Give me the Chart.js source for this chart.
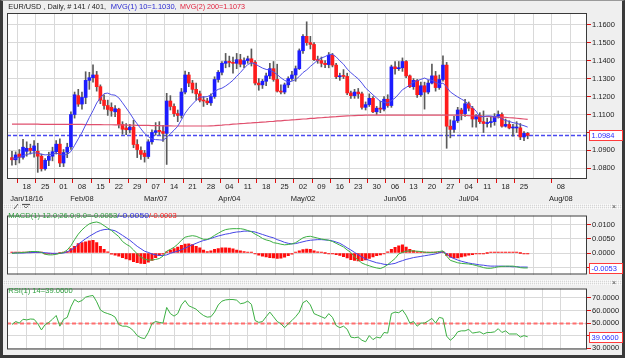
<!DOCTYPE html>
<html><head><meta charset="utf-8">
<script src="https://cdn.jsdelivr.net/npm/chart.js@4.4.1/dist/chart.umd.min.js"></script>
<style>
html,body{margin:0;padding:0;background:#ffffff;width:628px;height:360px;overflow:hidden;}
#frame{position:absolute;left:0;top:0;width:619px;height:354px;border:3px solid #3a3a3a;border-top:1px solid #9a9a9a;background:#efefef;}
canvas{position:absolute;left:0;}
.sep{position:absolute;left:3px;width:619px;height:5px;background-color:#d6d6d6;
background-image:repeating-linear-gradient(90deg,rgba(255,255,255,.75) 0 1px,transparent 1px 2px),repeating-linear-gradient(0deg,rgba(255,255,255,.6) 0 1px,transparent 1px 2px);}
.cls{position:absolute;left:612px;font:7px 'Liberation Sans',Arial,sans-serif;color:#444;line-height:6px;}
</style></head>
<body>
<div id="frame"></div>
<canvas id="c1" width="628" height="205" style="top:0px"></canvas>
<canvas id="c2" width="628" height="70" style="top:210px"></canvas>
<canvas id="c3" width="628" height="72" style="top:283px"></canvas>
<div class="sep" style="top:204px"></div>
<div class="sep" style="top:280px"></div>
<svg style="position:absolute;left:13px;top:203px" width="20" height="7"><path d="M1 6 L5 1" stroke="#555" stroke-width="1"/><path d="M9 1.5 H17" stroke="#555" stroke-width="1.2"/><path d="M11 3 L13 5 L15 3" stroke="#555" fill="none" stroke-width="0.8"/></svg>
<div class="cls" style="top:204px">×</div>
<div class="cls" style="top:280px">×</div>
<script>
// ---------------- DATA ----------------
const startDate = '2016-01-12';
const opens = [1.0860,1.0848,1.0880,1.0862,
1.0895,1.0912,1.0898,1.0895,1.0868, 1.0798,1.0845,1.0868,1.0893,1.0935,
1.0830,1.0890,1.0920,1.1100,1.1205, 1.1158,1.1195,1.1290,1.1305,1.1320,
1.1255,1.1180,1.1150,1.1140,1.1115, 1.1130,1.1045,1.1025,1.1015,1.1030,
1.0933,1.0900,1.0885,1.0866,1.0948, 1.1000,1.1012,1.1005,1.0995,1.1175,
1.1145,1.1105,1.1095,1.1225,1.1320, 1.1275,1.1240,1.1215,1.1180,1.1175,
1.1165,1.1200,1.1295,1.1335,1.1385, 1.1395,1.1390,1.1385,1.1405,1.1380,
1.1400,1.1410,1.1390,1.1275,1.1265, 1.1285,1.1315,1.1355,1.1295,1.1230,
1.1225,1.1265,1.1300,1.1320,1.1355, 1.1455,1.1535,1.1500,1.1490,1.1405,
1.1400,1.1385,1.1378,1.1430,1.1375, 1.1310,1.1315,1.1312,1.1220,1.1205,
1.1225,1.1215,1.1140,1.1155,1.1190, 1.1115,1.1135,1.1130,1.1185,1.1150,
1.1365,1.1355,1.1360,1.1395,1.1315, 1.1255,1.1290,1.1210,1.1260,1.1225,
1.1275,1.1315,1.1250,1.1295,1.1375, 1.1035,1.1017,1.1065,1.1125,1.1105,
1.1160,1.1135,1.1075,1.1095,1.1060, 1.1050,1.1055,1.1060,1.1090,1.1100,
1.1035,1.1045,1.1025,1.1025,1.1026, 1.0975,1.0995];
const highs = [1.0895,1.0892,1.0905,1.0962,
1.0948,1.0935,1.0955,1.0940,1.0880, 1.0855,1.0890,1.0918,1.0955,1.0965,
1.0905,1.0940,1.1115,1.1225,1.1240, 1.1225,1.1338,1.1335,1.1376,1.1340,
1.1265,1.1210,1.1180,1.1165,1.1150, 1.1135,1.1060,1.1050,1.1045,1.1068,
1.0960,1.0920,1.0900,1.0960,1.1015, 1.1055,1.1060,1.1040,1.1218,1.1205,
1.1160,1.1125,1.1245,1.1342,1.1335, 1.1290,1.1275,1.1230,1.1200,1.1190,
1.1215,1.1310,1.1345,1.1395,1.1440, 1.1425,1.1420,1.1440,1.1435,1.1415,
1.1425,1.1465,1.1400,1.1300,1.1295, 1.1330,1.1385,1.1395,1.1380,1.1265,
1.1275,1.1310,1.1340,1.1370,1.1465, 1.1545,1.1616,1.1535,1.1500,1.1425,
1.1420,1.1400,1.1445,1.1440,1.1385, 1.1330,1.1350,1.1330,1.1230,1.1240,
1.1245,1.1225,1.1170,1.1215,1.1200, 1.1145,1.1175,1.1200,1.1210,1.1375,
1.1395,1.1395,1.1415,1.1400,1.1320, 1.1300,1.1295,1.1280,1.1280,1.1290,
1.1380,1.1340,1.1320,1.1427,1.1390, 1.1070,1.1090,1.1140,1.1135,1.1185,
1.1170,1.1145,1.1100,1.1110,1.1120, 1.1080,1.1085,1.1105,1.1120,1.1110,
1.1075,1.1065,1.1045,1.1060,1.1050, 1.1005,1.1000];
const lows = [1.0818,1.0820,1.0830,1.0852,
1.0868,1.0880,1.0862,1.0778,1.0785, 1.0790,1.0815,1.0842,1.0880,1.0810,
1.0810,1.0860,1.0905,1.1080,1.1145, 1.1130,1.1160,1.1240,1.1280,1.1230,
1.1160,1.1130,1.1095,1.1090,1.1088, 1.1025,1.0990,1.0988,1.0998,1.0915,
1.0860,1.0850,1.0835,1.0855,1.0935, 1.0985,1.0988,1.0950,1.0822,1.1125,
1.1090,1.1060,1.1080,1.1215,1.1255, 1.1220,1.1180,1.1170,1.1145,1.1155,
1.1150,1.1190,1.1280,1.1320,1.1360, 1.1365,1.1330,1.1355,1.1365,1.1360,
1.1385,1.1370,1.1265,1.1235,1.1245, 1.1260,1.1300,1.1285,1.1225,1.1215,
1.1215,1.1250,1.1290,1.1285,1.1350, 1.1440,1.1485,1.1465,1.1400,1.1385,
1.1365,1.1360,1.1360,1.1365,1.1300, 1.1290,1.1300,1.1210,1.1190,1.1190,
1.1190,1.1130,1.1125,1.1145,1.1110, 1.1100,1.1110,1.1120,1.1140,1.1140,
1.1325,1.1345,1.1340,1.1305,1.1250, 1.1240,1.1195,1.1200,1.1130,1.1215,
1.1270,1.1230,1.1240,1.1285,1.0912, 1.0970,1.1000,1.1055,1.1070,1.1090,
1.1120,1.1030,1.1030,1.1050,1.1000, 1.1030,1.1030,1.1040,1.1080,1.1030,
1.1030,1.1020,1.0980,1.1000,1.0960, 1.0955,1.0965];
const closes = [1.0848,1.0875,1.0862,1.0918,
1.0912,1.0900,1.0925,1.0868,1.0798, 1.0845,1.0868,1.0893,1.0935,1.0830,
1.0888,1.0918,1.1100,1.1210,1.1158, 1.1195,1.1290,1.1305,1.1320,1.1255,
1.1180,1.1150,1.1128,1.1120,1.1132, 1.1045,1.1018,1.1015,1.1030,1.0933,
1.0905,1.0878,1.0866,1.0948,1.1000, 1.1010,1.1005,1.0995,1.1175,1.1145,
1.1105,1.1095,1.1225,1.1320,1.1275, 1.1240,1.1215,1.1180,1.1175,1.1165,
1.1200,1.1295,1.1335,1.1385,1.1395, 1.1390,1.1385,1.1405,1.1380,1.1400,
1.1410,1.1390,1.1275,1.1265,1.1285, 1.1315,1.1355,1.1295,1.1230,1.1225,
1.1265,1.1300,1.1320,1.1355,1.1455, 1.1535,1.1500,1.1490,1.1405,1.1400,
1.1385,1.1378,1.1430,1.1375,1.1310, 1.1315,1.1312,1.1220,1.1205,1.1225,
1.1215,1.1140,1.1155,1.1190,1.1115, 1.1135,1.1130,1.1185,1.1150,1.1365,
1.1355,1.1360,1.1395,1.1315,1.1255, 1.1290,1.1210,1.1260,1.1225,1.1275,
1.1315,1.1250,1.1295,1.1375,1.1035, 1.1017,1.1065,1.1125,1.1105,1.1160,
1.1135,1.1075,1.1095,1.1060,1.1050, 1.1055,1.1060,1.1090,1.1100,1.1035,
1.1045,1.1025,1.1025,1.1026,1.0975, 1.0995,1.0984];
// first nine 10-day averages (need bars before the window)
const ma10Head = [1.0852,1.0857,1.0863,1.0870,1.0877,1.0883,1.0887,1.0885,1.0879];
const ma200 = [1.1046,1.1046,1.1046,1.1046,
1.1046,1.1046,1.1046,1.1046,1.1045, 1.1045,1.1045,1.1045,1.1045,1.1045,
1.1045,1.1045,1.1045,1.1045,1.1045, 1.1045,1.1044,1.1044,1.1044,1.1044,
1.1044,1.1043,1.1043,1.1043,1.1042, 1.1042,1.1042,1.1041,1.1041,1.1041,
1.1040,1.1040,1.1039,1.1039,1.1038, 1.1038,1.1038,1.1037,1.1037,1.1037,
1.1036,1.1036,1.1036,1.1036,1.1036, 1.1036,1.1036,1.1036,1.1036,1.1036,
1.1037,1.1038,1.1040,1.1041,1.1043, 1.1044,1.1046,1.1047,1.1049,1.1050,
1.1052,1.1053,1.1055,1.1056,1.1058, 1.1059,1.1061,1.1062,1.1064,1.1065,
1.1067,1.1068,1.1070,1.1071,1.1073, 1.1075,1.1076,1.1078,1.1079,1.1081,
1.1082,1.1084,1.1085,1.1087,1.1088, 1.1090,1.1091,1.1092,1.1093,1.1094,
1.1095,1.1095,1.1096,1.1096,1.1096, 1.1097,1.1097,1.1097,1.1097,1.1097,
1.1097,1.1097,1.1097,1.1097,1.1097, 1.1097,1.1097,1.1097,1.1097,1.1097,
1.1097,1.1097,1.1097,1.1097,1.1097, 1.1097,1.1097,1.1097,1.1096,1.1095,
1.1094,1.1093,1.1092,1.1091,1.1090, 1.1089,1.1088,1.1087,1.1086,1.1085,
1.1084,1.1082,1.1081,1.1079,1.1077, 1.1075,1.1073];
const macd = [-0.00011,0.00000,0.00011,0.00022,
0.00032,0.00054,0.00054,0.00054,0.00022, -0.00043,-0.00065,-0.00065,-0.00043,-0.00011,
0.00022,0.00108,0.00260,0.00476,0.00671, 0.00822,0.00941,0.01039,0.01082,0.01104,
0.01060,0.00974,0.00887,0.00801,0.00692, 0.00584,0.00411,0.00314,0.00238,0.00108,
-0.00032,-0.00141,-0.00216,-0.00249,-0.00249, -0.00227,-0.00195,-0.00108,0.00065,0.00130,
0.00206,0.00314,0.00454,0.00563,0.00595, 0.00617,0.00595,0.00541,0.00487,0.00487,
0.00541,0.00628,0.00703,0.00779,0.00833, 0.00855,0.00866,0.00866,0.00866,0.00844,
0.00801,0.00757,0.00671,0.00606,0.00519, 0.00465,0.00433,0.00368,0.00346,0.00314,
0.00292,0.00303,0.00325,0.00368,0.00454, 0.00541,0.00584,0.00595,0.00563,0.00530,
0.00498,0.00476,0.00454,0.00411,0.00346, 0.00281,0.00216,0.00108,0.00022,-0.00141,
-0.00249,-0.00357,-0.00411,-0.00454,-0.00498, -0.00530,-0.00552,-0.00498,-0.00411,-0.00303,
-0.00195,-0.00032,0.00022,0.00065,0.00076, 0.00076,0.00065,0.00054,0.00032,0.00022,
0.00022,0.00032,0.00054,0.00076,-0.00108, -0.00260,-0.00303,-0.00346,-0.00368,-0.00379,
-0.00390,-0.00411,-0.00444,-0.00476,-0.00519, -0.00541,-0.00541,-0.00519,-0.00487,-0.00476,
-0.00465,-0.00465,-0.00465,-0.00487,-0.00519, -0.00530,-0.00530];
const signal = [0,0,0,0,
0.00011,0.00011,0.00022,0.00022,0.00022, 0.00011,0,-0.00011,-0.00011,-0.00011,
0,0.00043,0.00108,0.00184,0.00314, 0.00411,0.00509,0.00595,0.00671,0.00747,
0.00801,0.00833,0.00844,0.00822,0.00790, 0.00714,0.00628,0.00541,0.00454,0.00346,
0.00238,0.00152,0.00065,0.00022,-0.00032, -0.00065,-0.00087,-0.00087,-0.00065,-0.00011,
0.00032,0.00065,0.00119,0.00173,0.00238, 0.00292,0.00346,0.00400,0.00444,0.00476,
0.00519,0.00563,0.00606,0.00638,0.00671, 0.00692,0.00725,0.00747,0.00757,0.00779,
0.00779,0.00768,0.00747,0.00703,0.00660, 0.00617,0.00574,0.00541,0.00476,0.00433,
0.00379,0.00346,0.00325,0.00336,0.00368, 0.00400,0.00433,0.00454,0.00465,0.00476,
0.00476,0.00465,0.00454,0.00433,0.00390, 0.00346,0.00271,0.00184,0.00108,0.00022,
-0.00065,-0.00141,-0.00206,-0.00260,-0.00303, -0.00346,-0.00368,-0.00400,-0.00411,-0.00390,
-0.00368,-0.00314,-0.00271,-0.00227,-0.00195, -0.00162,-0.00141,-0.00119,-0.00097,-0.00076,
-0.00054,-0.00032,0.00011,0.00043,-0.00022, -0.00141,-0.00195,-0.00249,-0.00292,-0.00325,
-0.00357,-0.00379,-0.00400,-0.00422,-0.00433, -0.00454,-0.00465,-0.00465,-0.00465,-0.00465,
-0.00476,-0.00476,-0.00487,-0.00487,-0.00498, -0.00498,-0.00500];
const hist = [0.00022,0.00011,0.00022,0.00022,
0.00032,0.00043,0.00043,0.00032,0.00011, -0.00022,-0.00032,-0.00032,-0.00022,0,
0.00011,0.00054,0.00162,0.00238,0.00335, 0.00368,0.00400,0.00433,0.00454,0.00368,
0.00238,0.00130,0.00043,-0.00043,-0.00076, -0.00108,-0.00162,-0.00206,-0.00249,-0.00303,
-0.00346,-0.00368,-0.00379,-0.00325,-0.00260, -0.00162,-0.00087,-0.00043,0.00043,0.00108,
0.00162,0.00216,0.00271,0.00314,0.00325, 0.00303,0.00238,0.00184,0.00108,0.00054,
0.00076,0.00130,0.00162,0.00184,0.00184, 0.00173,0.00151,0.00108,0.00076,0.00054,
0.00032,0.00011,-0.00032,-0.00076,-0.00108, -0.00141,-0.00162,-0.00173,-0.00195,-0.00184,
-0.00151,-0.00097,-0.00043,0.00022,0.00076, 0.00119,0.00141,0.00130,0.00076,0.00043,
0.00022,0,-0.00011,-0.00032,-0.00054, -0.00087,-0.00130,-0.00173,-0.00238,-0.00260,
-0.00281,-0.00271,-0.00249,-0.00195,-0.00141, -0.00097,-0.00065,-0.00011,0.00043,0.00130,
0.00206,0.00260,0.00292,0.00216,0.00130, 0.00087,0.00054,0.00043,0.00032,0.00022,
0.00022,0.00022,0.00022,0.00054,-0.00087, -0.00151,-0.00173,-0.00173,-0.00141,-0.00108,
-0.00076,-0.00054,-0.00032,-0.00022,-0.00011, 0,0.00011,0.00022,0.00022,0.00022,
0.00022,0.00022,0.00022,0.00011,0, -0.00011,-0.00032];
const rsi = [48.8,51.2,50.0,53.0,
52.5,53.2,53.0,49.5,44.5, 48.8,50.5,53.0,56.0,47.5,
53.0,54.5,62.9,68.7,66.7, 67.9,70.6,71.4,71.9,66.9,
60.4,58.5,57.5,56.5,54.7, 48.8,47.5,47.5,46.3,43.8,
40.0,38.3,37.6,42.5,49.5, 51.2,50.5,50.0,62.4,57.5,
55.5,57.5,64.4,67.9,63.7, 62.4,61.0,58.2,56.0,54.7,
55.0,58.7,64.4,67.4,68.4, 68.7,68.7,68.2,65.4,65.9,
67.4,64.9,52.0,50.5,51.2, 55.0,58.7,55.0,51.2,49.5,
46.3,49.3,52.0,55.0,58.7, 66.2,67.9,64.4,57.5,56.2,
55.0,53.7,57.5,54.5,48.0, 46.3,47.5,45.0,38.8,38.3,
38.8,36.3,35.1,40.0,36.8, 38.8,38.1,42.5,42.0,57.5,
58.7,58.2,60.4,56.2,50.0, 51.2,47.5,50.0,50.0,51.7,
53.7,50.0,54.5,53.7,39.6, 36.3,38.8,43.0,43.8,43.8,
45.0,42.0,42.5,43.0,41.3, 42.5,42.5,43.0,45.5,42.5,
43.8,41.3,41.3,41.3,38.8, 40.0,39.06];
const rsiLevel = 50;
const lastPrice = 1.0984, lastMacd = -0.0053, lastRsi = 39.06;
const tickDates = ['2016-01-18','2016-01-25','2016-02-01','2016-02-08','2016-02-15','2016-02-22','2016-02-29',
'2016-03-07','2016-03-14','2016-03-21','2016-03-28','2016-04-04','2016-04-11','2016-04-18','2016-04-25',
'2016-05-02','2016-05-09','2016-05-16','2016-05-23','2016-05-30','2016-06-06','2016-06-13','2016-06-20','2016-06-27',
'2016-07-04','2016-07-11','2016-07-18','2016-07-25','2016-08-01','2016-08-08'];
const tickDays = ['18','25','01','08','15','22','29','07','14','21','28','04','11','18','25',
'02','09','16','23','30','06','13','20','27','04','11','18','25','','08'];
const tickMonths = ['Jan/18/16','','','Feb/08','','','','Mar/07','','','','Apr/04','','','',
'May/02','','','','','Jun/06','','','','Jul/04','','','','','Aug/08'];
const priceTicks = [1.08,1.09,1.10,1.11,1.12,1.13,1.14,1.15,1.16];
const macdTicks = [-0.005,0,0.005,0.01];
const rsiTicks = [30,40,50,60,70];
const priceTitle = [['EUR/USD , Daily, # 141 / 401,','#1c1c1c'],['MVG(1) 10=1.1030,','#2a2ad0'],['MVG(2) 200=1.1073','#e0203c']];
const macdTitle = [['MACD(1) 12.0;26.0;9.0=-0.0053','#2f9e3f'],['/-0.0050','#3030e0'],['/-0.0003','#ff2020']];
const rsiTitle = [['RSI(1) 14=39.0600','#2f9e3f']];

// ---------------- BUILD ----------------
function tradingIndex(iso){
  const d0=new Date(startDate+'T00:00:00Z'), d1=new Date(iso+'T00:00:00Z');
  let n=0;
  for(let d=new Date(d0); d<d1; d.setUTCDate(d.getUTCDate()+1)){const w=d.getUTCDay(); if(w!==0&&w!==6) n++;}
  return n;
}
const tickPos = tickDates.map(tradingIndex);
const ma10 = closes.map((c,k)=> k<9 ? ma10Head[k] : closes.slice(k-9,k+1).reduce((a,b)=>a+b,0)/10);
const pts = arr => arr.map((v,k)=>({x:k,y:v}));

const FONT = "'Liberation Sans', Arial, Helvetica, sans-serif";
Chart.defaults.font.family = FONT;
Chart.defaults.font.size = 7.5;
Chart.defaults.color = '#222';
const GRID = '#d9d9d9', TICK = '#e01010', UP = '#1c1cff', DOWN = '#ff1c1c';
const X_MIN = -1.35, X_MAX = 156.1;

function xScale(labels){
  return {
    type:'linear', min:X_MIN, max:X_MAX, offset:false, bounds:'data',
    afterBuildTicks: ax => { ax.ticks = tickPos.map(v=>({value:v})); },
    afterFit: ax => { ax.height = labels ? 26 : 0; },
    grid:{color:GRID, lineWidth:1, drawTicks:labels, tickLength:4,
      tickColor: c => (tickDays[c.index] ? TICK : 'rgba(0,0,0,0)')},
    border:{display:false},
    ticks:{display:false}
  };
}
function yScale(min,max,ticks,dec){
  return {
    type:'linear', position:'right', min, max, bounds:'data',
    afterBuildTicks: ax => { ax.ticks = ticks.map(v=>({value:v})); },
    afterFit: ax => { ax.width = 41; },
    grid:{color:GRID, lineWidth:1, tickColor:TICK, tickLength:4},
    border:{display:false},
    ticks:{padding:1, color:'#222', font:{size:7.5}, callback: v => Number(v).toFixed(dec)}
  };
}
function fitText(ctx, segs, y){
  ctx.font = '7.5px ' + FONT; ctx.textBaseline='middle'; ctx.textAlign='left';
  segs.forEach(s=>{
    const m = ctx.measureText(s.t).width;
    ctx.save(); ctx.translate(s.x, y); ctx.scale(s.w/m, 1); ctx.fillStyle=s.c; ctx.fillText(s.t,0,0); ctx.restore();
  });
}
function panel(cfg){
  return {
    id:'panel'+cfg.name,
    beforeDraw(chart){
      const {ctx, chartArea:a} = chart;
      ctx.save(); ctx.fillStyle='#ffffff'; ctx.fillRect(a.left,a.top,a.right-a.left,a.bottom-a.top); ctx.restore();
    },
    beforeDatasetsDraw(chart){
      if(!cfg.level) return;
      const {ctx, chartArea:a} = chart;
      const y = Math.round(chart.scales.y.getPixelForValue(cfg.level.value))+0.5;
      ctx.save(); ctx.beginPath(); ctx.rect(a.left,a.top,a.right-a.left,a.bottom-a.top); ctx.clip();
      ctx.strokeStyle=cfg.level.color; ctx.lineWidth=cfg.level.width; ctx.setLineDash(cfg.level.dash);
      ctx.beginPath(); ctx.moveTo(a.left,y); ctx.lineTo(a.right,y); ctx.stroke(); ctx.restore();
    },
    afterDraw(chart){
      const {ctx, chartArea:a} = chart;
      ctx.save();
      ctx.strokeStyle='#3a3a3a'; ctx.lineWidth=1; ctx.setLineDash([]);
      ctx.strokeRect(a.left+0.5,a.top+0.5,a.right-a.left-1,a.bottom-a.top-1);
      if(cfg.xLabels){
        const xs = chart.scales.x;
        ctx.font='7.5px '+FONT; ctx.textBaseline='middle'; ctx.textAlign='center'; ctx.fillStyle='#222';
        tickPos.forEach((v,i)=>{
          const px = xs.getPixelForValue(v);
          if(tickDays[i]) ctx.fillText(tickDays[i], px, a.bottom+7.7);
          if(tickMonths[i]) ctx.fillText(tickMonths[i], px, a.bottom+20.2);
        });
      }
      if(cfg.box){
        const y = Math.round(chart.scales.y.getPixelForValue(cfg.box.value));
        ctx.fillStyle='#ffffff'; ctx.fillRect(a.right+2,y-5,33,10);
        ctx.strokeStyle='#ff3b3b'; ctx.strokeRect(a.right+2.5,y-4.5,33,10);
        ctx.fillStyle='#2b2bff'; ctx.font='7.5px '+FONT; ctx.textBaseline='middle'; ctx.textAlign='left';
        ctx.fillText(cfg.box.text, a.right+4.5, y+0.5);
      }
      if(cfg.title){ fitText(ctx, cfg.title.segs, cfg.title.y - chart.canvas.offsetTop); }
      ctx.restore();
    }
  };
}
const common = {responsive:false, animation:false, events:[], plugins:{legend:{display:false}, tooltip:{enabled:false}}};

// price chart
new Chart(document.getElementById('c1'), {
  type:'bar',
  data:{datasets:[
    {type:'line', data:pts(ma10), borderColor:'#5050e8', borderWidth:1, pointRadius:0, tension:0, order:0},
    {type:'line', data:pts(ma200), borderColor:'#e0506e', borderWidth:1.2, pointRadius:0, tension:0, order:1},
    {type:'bar', data:opens.map((o,k)=>({x:k,y:[o,closes[k]]})), grouped:false, barThickness:3, minBarLength:1,
      backgroundColor: c => (closes[c.dataIndex] >= opens[c.dataIndex] ? UP : DOWN), borderWidth:0, order:2},
    {type:'bar', data:lows.map((l,k)=>({x:k,y:[l,highs[k]]})), grouped:false, barThickness:1,
      backgroundColor:'#5a5a5a', borderWidth:0, order:3}
  ]},
  options:Object.assign({}, common, {
    layout:{padding:{left:7, top:13, right:0, bottom:0}},
    scales:{x:xScale(true), y:yScale(1.0741,1.1665,priceTicks,4)}
  }),
  plugins:[panel({name:'p', xLabels:true, level:{value:lastPrice, color:'#4a4af0', width:1.3, dash:[4,2]},
    box:{value:lastPrice, text:lastPrice.toFixed(4)},
    title:{y:7, segs:[{t:priceTitle[0][0],c:priceTitle[0][1],x:8.3,w:97.7},{t:priceTitle[1][0],c:priceTitle[1][1],x:110.7,w:66},{t:priceTitle[2][0],c:priceTitle[2][1],x:180,w:65}]}})]
});

// MACD chart
new Chart(document.getElementById('c2'), {
  type:'bar',
  data:{datasets:[
    {type:'line', data:pts(macd), borderColor:'#3cb043', borderWidth:1, pointRadius:0, tension:0, order:0},
    {type:'line', data:pts(signal), borderColor:'#4646e6', borderWidth:1, pointRadius:0, tension:0, order:1},
    {type:'bar', data:pts(hist), grouped:false, barThickness:2.4, minBarLength:1, backgroundColor:'#ff0c0c', borderWidth:0, order:2}
  ]},
  options:Object.assign({}, common, {
    layout:{padding:{left:7, top:3, right:0, bottom:2.5}},
    scales:{x:xScale(false), y:yScale(-0.00763,0.01334,macdTicks,4)}
  }),
  plugins:[panel({name:'m', box:{value:lastMacd, text:lastMacd.toFixed(4)},
    title:{y:216, segs:[{t:macdTitle[0][0],c:macdTitle[0][1],x:8.3,w:109},{t:macdTitle[1][0],c:macdTitle[1][1],x:117.3,w:31.7},{t:macdTitle[2][0],c:macdTitle[2][1],x:149,w:27.7}]}})]
});

// RSI chart
new Chart(document.getElementById('c3'), {
  type:'line',
  data:{datasets:[
    {data:pts(rsi), borderColor:'#3cb043', borderWidth:1, pointRadius:0, tension:0}
  ]},
  options:Object.assign({}, common, {
    layout:{padding:{left:7, top:3, right:0, bottom:4}},
    scales:{x:xScale(false), y:yScale(28.96,77.46,rsiTicks,4)}
  }),
  plugins:[panel({name:'r', level:{value:rsiLevel, color:'#ff6e6e', width:2, dash:[4,2.5]},
    box:{value:lastRsi, text:lastRsi.toFixed(4)},
    title:{y:290.7, segs:[{t:rsiTitle[0][0],c:rsiTitle[0][1],x:8.3,w:64.4}]}})]
});
</script>
</body></html>
